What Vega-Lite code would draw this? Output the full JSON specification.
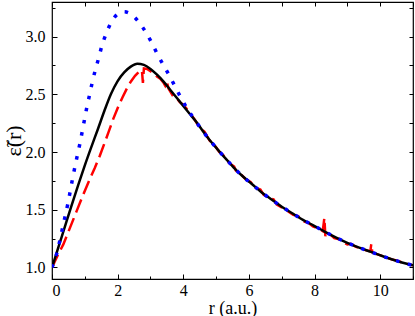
{
  "$schema": "https://vega.github.io/schema/vega-lite/v6.json",
  "width": 361,
  "height": 277,
  "autosize": {"type": "none"},
  "padding": {"left": 52, "top": 2, "right": 2, "bottom": 37},
  "background": "white",
  "config": {
    "font": "Liberation Serif",
    "view": {"stroke": "#000", "strokeWidth": 1.2},
    "axis": {
      "grid": false,
      "domain": false,
      "labelFont": "Liberation Serif",
      "titleFont": "Liberation Serif",
      "labelColor": "#000",
      "titleColor": "#000",
      "tickColor": "#000",
      "tickWidth": 1,
      "labelFontSize": 16,
      "titleFontSize": 18,
      "titleFontWeight": "normal"
    }
  },
  "datasets": {
    "red": [
      {"r": 0, "v": 1.0}, {"r": 0.1, "v": 1.06}, {"r": 0.2, "v": 1.12}, {"r": 0.345, "v": 1.2},
      {"r": 0.55, "v": 1.345}, {"r": 0.753, "v": 1.49}, {"r": 0.95, "v": 1.63}, {"r": 1.16, "v": 1.77},
      {"r": 1.3, "v": 1.86}, {"r": 1.46, "v": 1.97}, {"r": 1.616, "v": 2.09}, {"r": 1.72, "v": 2.17},
      {"r": 1.87, "v": 2.29}, {"r": 2.02, "v": 2.395}, {"r": 2.15, "v": 2.475}, {"r": 2.28, "v": 2.55},
      {"r": 2.4, "v": 2.61}, {"r": 2.53, "v": 2.66}, {"r": 2.65, "v": 2.695}, {"r": 2.74, "v": 2.71},
      {"r": 2.77, "v": 2.6}, {"r": 2.8, "v": 2.725}, {"r": 2.9, "v": 2.72}, {"r": 3.0, "v": 2.7},
      {"r": 3.1, "v": 2.685}, {"r": 3.2, "v": 2.655}, {"r": 3.3, "v": 2.635}, {"r": 3.4, "v": 2.6},
      {"r": 3.45, "v": 2.575}, {"r": 3.5, "v": 2.61}, {"r": 3.55, "v": 2.55}, {"r": 3.7, "v": 2.48},
      {"r": 3.8, "v": 2.465}, {"r": 3.9, "v": 2.43}, {"r": 4.0, "v": 2.41}, {"r": 4.2, "v": 2.34},
      {"r": 4.35, "v": 2.28}, {"r": 4.5, "v": 2.21}, {"r": 4.65, "v": 2.175}, {"r": 4.8, "v": 2.1},
      {"r": 4.95, "v": 2.06}, {"r": 5.1, "v": 2.0}, {"r": 5.25, "v": 1.965}, {"r": 5.4, "v": 1.905},
      {"r": 5.55, "v": 1.875}, {"r": 5.6, "v": 1.84}, {"r": 5.75, "v": 1.81}, {"r": 5.9, "v": 1.765},
      {"r": 6.05, "v": 1.74}, {"r": 6.2, "v": 1.69}, {"r": 6.35, "v": 1.675}, {"r": 6.45, "v": 1.63},
      {"r": 6.6, "v": 1.605}, {"r": 6.75, "v": 1.59}, {"r": 6.85, "v": 1.545}, {"r": 7.0, "v": 1.52},
      {"r": 7.2, "v": 1.485}, {"r": 7.35, "v": 1.455}, {"r": 7.5, "v": 1.445}, {"r": 7.65, "v": 1.4},
      {"r": 7.8, "v": 1.39}, {"r": 7.95, "v": 1.355}, {"r": 8.1, "v": 1.34}, {"r": 8.25, "v": 1.315},
      {"r": 8.3, "v": 1.43}, {"r": 8.33, "v": 1.27}, {"r": 8.36, "v": 1.305}, {"r": 8.5, "v": 1.28},
      {"r": 8.6, "v": 1.255}, {"r": 8.75, "v": 1.245}, {"r": 8.9, "v": 1.215}, {"r": 9.0, "v": 1.2},
      {"r": 9.1, "v": 1.205}, {"r": 9.25, "v": 1.18}, {"r": 9.4, "v": 1.165}, {"r": 9.55, "v": 1.15},
      {"r": 9.7, "v": 1.14}, {"r": 9.73, "v": 1.205}, {"r": 9.76, "v": 1.13}, {"r": 9.9, "v": 1.115},
      {"r": 10.05, "v": 1.1}, {"r": 10.2, "v": 1.085}, {"r": 10.35, "v": 1.07}, {"r": 10.5, "v": 1.06},
      {"r": 10.65, "v": 1.045}, {"r": 10.8, "v": 1.033}, {"r": 11.0, "v": 1.018}
    ],
    "black": [
      {"r": 0, "v": 1.0}, {"r": 0.2, "v": 1.18}, {"r": 0.4, "v": 1.36}, {"r": 0.6, "v": 1.54},
      {"r": 0.8, "v": 1.715}, {"r": 1.0, "v": 1.885}, {"r": 1.2, "v": 2.045}, {"r": 1.4, "v": 2.2},
      {"r": 1.6, "v": 2.36}, {"r": 1.8, "v": 2.505}, {"r": 2.0, "v": 2.615}, {"r": 2.2, "v": 2.69},
      {"r": 2.4, "v": 2.74}, {"r": 2.6, "v": 2.765}, {"r": 2.8, "v": 2.755}, {"r": 3.0, "v": 2.72},
      {"r": 3.2, "v": 2.67}, {"r": 3.4, "v": 2.61}, {"r": 3.6, "v": 2.54}, {"r": 3.8, "v": 2.47},
      {"r": 4.0, "v": 2.4}, {"r": 4.2, "v": 2.33}, {"r": 4.4, "v": 2.26}, {"r": 4.6, "v": 2.18},
      {"r": 4.79, "v": 2.109}, {"r": 5.03, "v": 2.028}, {"r": 5.3, "v": 1.941}, {"r": 5.53, "v": 1.868},
      {"r": 5.81, "v": 1.79}, {"r": 6.09, "v": 1.723}, {"r": 6.39, "v": 1.65}, {"r": 6.7, "v": 1.587},
      {"r": 7.0, "v": 1.526}, {"r": 7.36, "v": 1.463}, {"r": 7.66, "v": 1.41}, {"r": 7.99, "v": 1.361},
      {"r": 8.32, "v": 1.309}, {"r": 8.66, "v": 1.259}, {"r": 8.98, "v": 1.216}, {"r": 9.36, "v": 1.172},
      {"r": 9.72, "v": 1.135}, {"r": 10.08, "v": 1.097}, {"r": 10.44, "v": 1.063}, {"r": 10.81, "v": 1.032},
      {"r": 11.0, "v": 1.018}
    ],
    "blue": [
      {"r": 0, "v": 1.0}, {"r": 0.143, "v": 1.12}, {"r": 0.235, "v": 1.228}, {"r": 0.314, "v": 1.332},
      {"r": 0.396, "v": 1.439}, {"r": 0.479, "v": 1.546}, {"r": 0.549, "v": 1.65}, {"r": 0.619, "v": 1.758},
      {"r": 0.692, "v": 1.863}, {"r": 0.771, "v": 1.97}, {"r": 0.854, "v": 2.077}, {"r": 0.924, "v": 2.183},
      {"r": 0.997, "v": 2.291}, {"r": 1.067, "v": 2.396}, {"r": 1.149, "v": 2.5}, {"r": 1.229, "v": 2.607},
      {"r": 1.32, "v": 2.711}, {"r": 1.424, "v": 2.816}, {"r": 1.515, "v": 2.915}, {"r": 1.637, "v": 3.015},
      {"r": 1.79, "v": 3.115}, {"r": 2.0, "v": 3.195}, {"r": 2.2, "v": 3.215}, {"r": 2.378, "v": 3.2},
      {"r": 2.63, "v": 3.132}, {"r": 2.857, "v": 3.039}, {"r": 3.04, "v": 2.946}, {"r": 3.21, "v": 2.848},
      {"r": 3.39, "v": 2.755}, {"r": 3.58, "v": 2.66}, {"r": 3.76, "v": 2.563}, {"r": 3.93, "v": 2.47},
      {"r": 4.12, "v": 2.375}, {"r": 4.4, "v": 2.26}, {"r": 4.6, "v": 2.18},
      {"r": 4.79, "v": 2.109}, {"r": 5.03, "v": 2.028}, {"r": 5.3, "v": 1.941}, {"r": 5.53, "v": 1.868},
      {"r": 5.81, "v": 1.79}, {"r": 6.09, "v": 1.723}, {"r": 6.39, "v": 1.65}, {"r": 6.7, "v": 1.587},
      {"r": 7.0, "v": 1.526}, {"r": 7.36, "v": 1.463}, {"r": 7.66, "v": 1.41}, {"r": 7.99, "v": 1.361},
      {"r": 8.32, "v": 1.309}, {"r": 8.66, "v": 1.259}, {"r": 8.98, "v": 1.216}, {"r": 9.36, "v": 1.172},
      {"r": 9.72, "v": 1.135}, {"r": 10.08, "v": 1.097}, {"r": 10.44, "v": 1.063}, {"r": 10.81, "v": 1.032},
      {"r": 11.0, "v": 1.018}
    ]
  },
  "layer": [
    {
      "data": {"name": "red"},
      "mark": {"type": "line", "color": "#ff0000", "strokeWidth": 2.5, "strokeDash": [14, 6], "clip": true},
      "encoding": {
        "x": {"field": "r", "type": "quantitative", "scale": {"domain": [0, 11], "nice": false, "zero": false},
              "axis": {"orient": "bottom", "values": [0, 2, 4, 6, 8, 10], "offset": -5, "tickSize": 5, "labelPadding": 3, "format": "d", "title": "r (a.u.)", "titlePadding": 1, "labelFont": "Liberation Serif", "titleFont": "Liberation Serif"}},
        "y": {"field": "v", "type": "quantitative", "scale": {"domain": [0.9, 3.3], "nice": false, "zero": false},
              "axis": {"orient": "left", "values": [1.0, 1.5, 2.0, 2.5, 3.0], "offset": -5, "tickSize": 5, "labelPadding": 7, "format": ".1f", "title": "ε̃(r)", "titleFontSize": 22, "titlePadding": 0, "labelFont": "Liberation Serif", "titleFont": "Liberation Serif"}}
      }
    },
    {
      "data": {"name": "black"},
      "mark": {"type": "line", "color": "#000000", "strokeWidth": 2.5, "interpolate": "monotone", "clip": true},
      "encoding": {
        "x": {"field": "r", "type": "quantitative", "scale": {"domain": [0, 11], "nice": false, "zero": false},
              "axis": {"orient": "bottom", "values": [1, 3, 5, 7, 9, 11], "offset": -3, "tickSize": 3, "labels": false, "title": null}},
        "y": {"field": "v", "type": "quantitative", "scale": {"domain": [0.9, 3.3], "nice": false, "zero": false},
              "axis": {"orient": "left", "values": [1.25, 1.75, 2.25, 2.75, 3.25], "offset": -3, "tickSize": 3, "labels": false, "title": null}}
      }
    },
    {
      "data": {"name": "blue"},
      "mark": {"type": "line", "color": "#0000ff", "strokeWidth": 3.5, "strokeDash": [3.5, 8.8], "strokeCap": "butt", "interpolate": "monotone", "clip": true},
      "encoding": {
        "x": {"field": "r", "type": "quantitative", "scale": {"domain": [0, 11], "nice": false, "zero": false},
              "axis": {"orient": "top", "values": [0, 1, 2, 3, 4, 5, 6, 7, 8, 9, 10, 11], "offset": -4, "tickSize": 4, "labels": false, "title": null}},
        "y": {"field": "v", "type": "quantitative", "scale": {"domain": [0.9, 3.3], "nice": false, "zero": false},
              "axis": {"orient": "right", "values": [1.0, 1.25, 1.5, 1.75, 2.0, 2.25, 2.5, 2.75, 3.0, 3.25], "offset": -4, "tickSize": 4, "labels": false, "title": null}}
      }
    }
  ],
  "resolve": {"axis": {"x": "independent", "y": "independent"}}
}
